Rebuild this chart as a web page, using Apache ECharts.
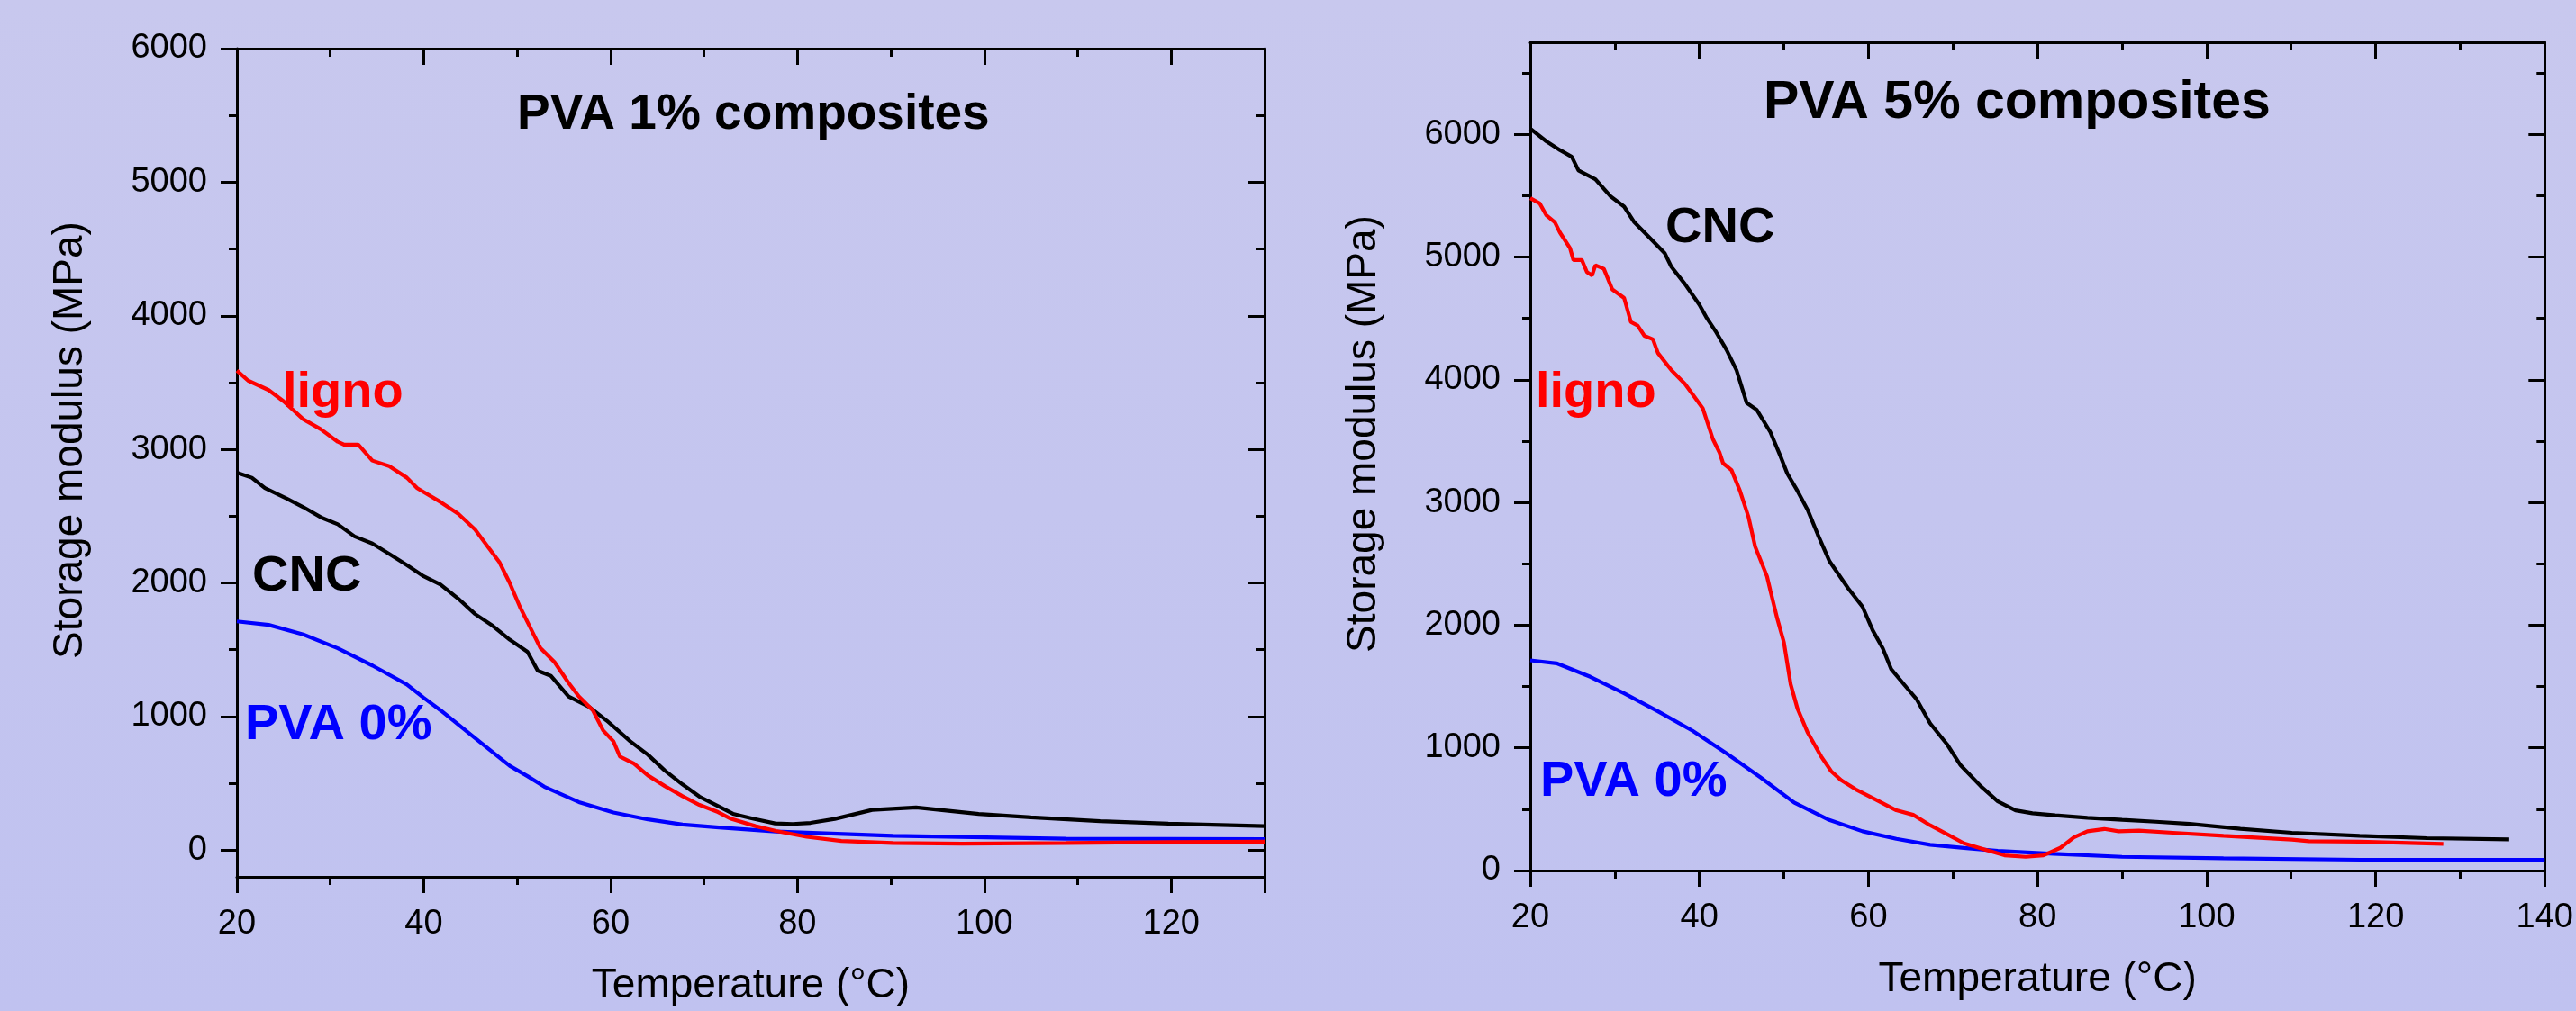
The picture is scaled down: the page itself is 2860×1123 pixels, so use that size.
<!DOCTYPE html>
<html>
<head>
<meta charset="utf-8">
<script src="https://cdn.jsdelivr.net/npm/echarts@6/dist/echarts.min.js"></script>
<style>
  html, body { margin: 0; padding: 0; }
  #main { width: 2860px; height: 1123px; }
</style>
</head>
<body>
<div id="main"></div>
<script>
// PVA 1% composites (left panel)
var t1Cnc = [20, 21.6, 23, 25.3, 27.1, 29, 30.8, 32.6, 34.5, 36.3, 38.2, 40, 41.8, 43.7, 45.5, 47.4, 49.2, 51.1, 52.2, 53.6, 55.5, 57.7, 59.6, 62.1, 64, 65.8, 67.7, 69.5, 71.5, 73.1, 75.2, 77.6, 79.5, 81.4, 84, 88, 92.7, 99.4, 105, 112.4, 119.7, 130];
var e1Cnc = [2826, 2788, 2710, 2633, 2568, 2491, 2439, 2348, 2295, 2218, 2133, 2050, 1988, 1882, 1767, 1678, 1575, 1485, 1343, 1305, 1151, 1073, 969, 815, 714, 596, 492, 401, 330, 272, 236, 200, 196, 204, 234, 301, 320, 271, 246, 217, 199, 180];
var t1Ligno = [20, 21.2, 23.4, 25, 27.1, 29, 30.8, 31.5, 33, 34.5, 36.3, 38.2, 39.3, 41.8, 43.7, 45.5, 47, 48.1, 49.2, 50.3, 51.4, 52.5, 54, 55.5, 56.6, 58.1, 59.2, 60.3, 61, 62.5, 64, 65.8, 67.7, 69.5, 71.5, 72.9, 75.5, 77.7, 81, 84.7, 90.2, 97.6, 108.7, 119.7, 130];
var e1Ligno = [3590, 3515, 3444, 3360, 3226, 3150, 3057, 3035, 3035, 2916, 2875, 2788, 2710, 2606, 2518, 2400, 2258, 2155, 2000, 1820, 1666, 1511, 1407, 1252, 1151, 1047, 896, 815, 700, 648, 559, 480, 404, 339, 285, 234, 180, 144, 100, 69, 54, 49, 54, 60, 63];
var t1Pva = [20, 23.4, 27.1, 30.8, 34.5, 38.2, 40, 41.8, 45.5, 49.2, 51.1, 52.9, 56.6, 60.3, 64, 67.7, 71.6, 77.7, 90.2, 108.7, 130];
var e1Pva = [1712, 1686, 1614, 1511, 1382, 1240, 1140, 1047, 838, 631, 554, 475, 360, 282, 230, 192, 170, 140, 108, 85, 83];

// PVA 5% composites (right panel)
var t5Cnc = [20, 21.9, 23.5, 24.9, 25.7, 27.7, 29.5, 31.1, 32.3, 33.9, 35.9, 36.7, 38.3, 40, 40.8, 42, 43.2, 44.4, 45.6, 46.8, 48.4, 49.6, 50.4, 51.6, 52.8, 54, 55.4, 57.6, 59.3, 60.5, 61.7, 62.7, 64.5, 65.7, 67.3, 69.3, 70.9, 73.3, 75.3, 77.4, 79.4, 82.1, 85.9, 90, 94, 98, 104, 110.1, 118.1, 126.1, 135.8];
var e5Cnc = [6047, 5943, 5872, 5817, 5705, 5634, 5494, 5411, 5284, 5172, 5031, 4919, 4779, 4611, 4512, 4386, 4245, 4077, 3811, 3754, 3573, 3376, 3236, 3095, 2941, 2740, 2520, 2300, 2150, 1958, 1811, 1640, 1493, 1396, 1200, 1029, 858, 687, 564, 491, 467, 450, 430, 413, 398, 381, 340, 308, 283, 264, 254];
var t5Ligno = [20, 21.1, 21.9, 22.9, 23.5, 24.7, 25.1, 26.1, 26.7, 27.3, 27.7, 28.7, 29.7, 31.1, 31.9, 32.7, 33.5, 34.5, 35.1, 36.7, 38.3, 39.2, 40.4, 41, 41.6, 42.4, 42.8, 43.8, 44.8, 45.8, 46.6, 48, 48.4, 49.2, 50, 50.8, 51.6, 52.8, 53.6, 54.4, 55.6, 56.8, 58.5, 60.9, 63.3, 65.3, 67.3, 69.3, 71.3, 73.7, 76.1, 78.6, 80.7, 82.7, 84.3, 85.9, 87.9, 89.6, 92, 96, 102, 110.1, 112.1, 118.1, 128];
var e5Ligno = [5480, 5438, 5340, 5284, 5200, 5073, 4975, 4975, 4877, 4849, 4933, 4904, 4736, 4666, 4470, 4441, 4358, 4330, 4218, 4077, 3965, 3881, 3768, 3642, 3516, 3404, 3320, 3264, 3095, 2885, 2640, 2398, 2282, 2057, 1860, 1518, 1322, 1126, 1029, 931, 809, 735, 662, 577, 491, 454, 369, 296, 222, 173, 124, 112, 124, 185, 270, 320, 339, 320, 325, 308, 283, 252, 240, 235, 217];
var t5Pva = [20, 23.1, 27.1, 31.1, 35.1, 39.2, 43.2, 47.2, 51.2, 55.2, 59.3, 63.3, 67.3, 71.3, 75.3, 81.9, 90, 102, 118.1, 140];
var e5Pva = [1713, 1689, 1579, 1445, 1298, 1139, 956, 761, 555, 417, 320, 259, 210, 185, 161, 136, 112, 100, 88, 88];

var yMajor = [0, 1000, 2000, 3000, 4000, 5000, 6000];
var yMinor1 = [500, 1500, 2500, 3500, 4500, 5500];
var yMinor5 = [500, 1500, 2500, 3500, 4500, 5500, 6500];

var FONT = '"Liberation Sans", Arial, sans-serif';

function pairs(xs, ys) {
  var out = [];
  for (var i = 0; i < xs.length; i++) {
    out.push([xs[i], ys[i]]);
  }
  return out;
}

function plain(v) {
  return String(v);
}

function xAxes(g, max, showMax) {
  var base = {
    gridIndex: g,
    type: 'value',
    min: 20,
    max: max,
    interval: 20,
    axisLine: { show: true, onZero: false, lineStyle: { color: '#000', width: 3 } },
    axisTick: { show: true, length: 18, lineStyle: { color: '#000', width: 3 } },
    minorTick: { show: true, splitNumber: 2, length: 9, lineStyle: { color: '#000', width: 3 } },
    splitLine: { show: false },
    minorSplitLine: { show: false }
  };
  var bottom = Object.assign({}, base, {
    position: 'bottom',
    axisLabel: { margin: 34, fontSize: 38, color: '#000', fontFamily: FONT, formatter: plain, showMaxLabel: showMax },
    name: 'Temperature (°C)',
    nameLocation: 'middle',
    nameGap: 98,
    nameTextStyle: { fontSize: 46, color: '#000', fontFamily: FONT }
  });
  var top = Object.assign({}, base, {
    position: 'top',
    axisTick: { show: true, inside: true, length: 18, lineStyle: { color: '#000', width: 3 } },
    axisLabel: { show: false }
  });
  return [bottom, top];
}

function yAxes(g, min, max, minor) {
  var line = { show: true, onZero: false, lineStyle: { color: '#000', width: 3 } };
  var base = {
    gridIndex: g,
    type: 'value',
    min: min,
    max: max,
    splitLine: { show: false },
    minorTick: { show: false }
  };
  return [
    Object.assign({}, base, {
      position: 'left',
      axisLine: line,
      axisTick: { show: true, length: 18, customValues: yMajor, lineStyle: { color: '#000', width: 3 } },
      axisLabel: { customValues: yMajor, margin: 33, fontSize: 38, color: '#000', fontFamily: FONT, formatter: plain },
      name: 'Storage modulus (MPa)',
      nameLocation: 'middle',
      nameGap: 162,
      nameTextStyle: { fontSize: 46, color: '#000', fontFamily: FONT, padding: [0, 0, 0, 50] }
    }),
    Object.assign({}, base, {
      position: 'left',
      axisLine: { show: false },
      axisTick: { show: true, length: 9, customValues: minor, lineStyle: { color: '#000', width: 3 } },
      axisLabel: { show: false }
    }),
    Object.assign({}, base, {
      position: 'right',
      axisLine: line,
      axisTick: { show: true, inside: true, length: 18, customValues: yMajor, lineStyle: { color: '#000', width: 3 } },
      axisLabel: { show: false }
    }),
    Object.assign({}, base, {
      position: 'right',
      axisLine: { show: false },
      axisTick: { show: true, inside: true, length: 9, customValues: minor, lineStyle: { color: '#000', width: 3 } },
      axisLabel: { show: false }
    })
  ];
}

function curve(name, data, color, xi, yi) {
  return {
    name: name,
    type: 'line',
    xAxisIndex: xi,
    yAxisIndex: yi,
    data: data,
    symbol: 'none',
    smooth: false,
    lineStyle: { color: color, width: 4.2 },
    itemStyle: { color: color },
    z: 3
  };
}

function label(text, x, y, color, size) {
  return {
    type: 'text',
    x: x,
    y: y,
    style: {
      text: text,
      fill: color,
      font: 'bold ' + size + 'px ' + FONT,
      textAlign: 'left',
      textVerticalAlign: 'middle'
    },
    z: 10
  };
}

var chart = echarts.init(document.getElementById('main'));

var option = {
  backgroundColor: new echarts.graphic.LinearGradient(0, 0, 0, 1, [
    { offset: 0, color: '#c8c8ee' },
    { offset: 1, color: '#c0c2f0' }
  ]),
  animation: false,
  grid: [
    { left: 263, top: 54, width: 1141, height: 920 },
    { left: 1699, top: 47, width: 1142, height: 920 }
  ],
  xAxis: xAxes(0, 130, false).concat(xAxes(1, 140, true)),
  yAxis: yAxes(0, -200, 6000, yMinor1).concat(yAxes(1, 0, 6750, yMinor5)),
  series: [
    curve('PVA 0%', pairs(t1Pva, e1Pva), '#0000ff', 0, 0),
    curve('CNC', pairs(t1Cnc, e1Cnc), '#000000', 0, 0),
    curve('ligno', pairs(t1Ligno, e1Ligno), '#ff0000', 0, 0),
    curve('PVA 0%', pairs(t5Pva, e5Pva), '#0000ff', 2, 4),
    curve('ligno', pairs(t5Ligno, e5Ligno), '#ff0000', 2, 4),
    curve('CNC', pairs(t5Cnc, e5Cnc), '#000000', 2, 4)
  ],
  graphic: [
    label('PVA 1% composites', 574, 128, '#000', 55),
    label('ligno', 314, 437, '#ff0000', 56),
    label('CNC', 280, 641, '#000', 56),
    label('PVA 0%', 272, 806, '#0000ff', 56),
    label('PVA 5% composites', 1958, 115, '#000', 59),
    label('CNC', 1849, 254, '#000', 56),
    label('ligno', 1705, 437, '#ff0000', 56),
    label('PVA 0%', 1710, 869, '#0000ff', 56)
  ]
};

chart.setOption(option);
</script>
</body>
</html>
